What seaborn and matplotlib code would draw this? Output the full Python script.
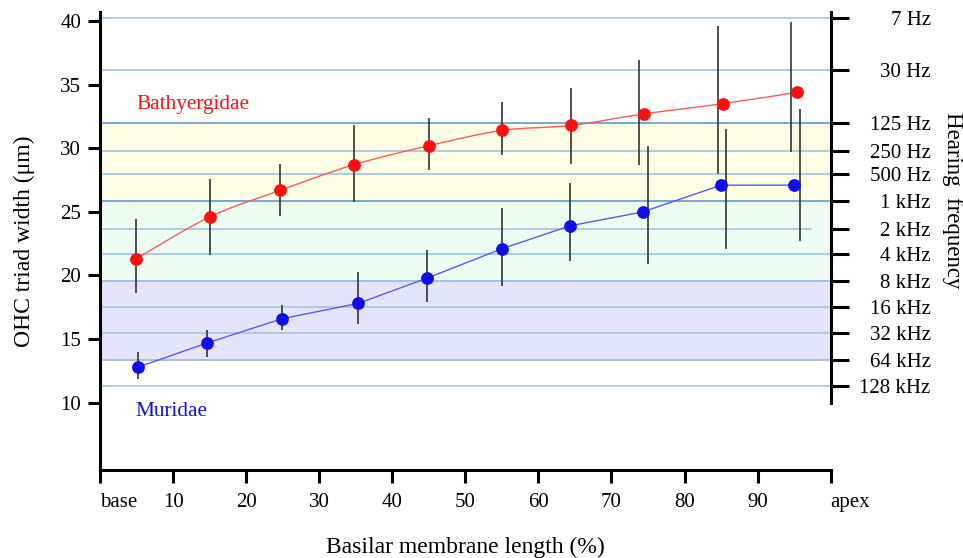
import numpy as np
import pandas as pd
import matplotlib
matplotlib.use("Agg")
import matplotlib.pyplot as plt
from matplotlib.path import Path
from matplotlib.patches import PathPatch
import seaborn as sns

# Bathyergidae: OHC triad width per basilar-membrane segment (% from base)
bathy_pos = [4.9, 15.0, 24.7, 34.7, 45.0, 55.0, 64.5, 74.4, 85.2, 95.4]
bathy_width = [21.3, 24.6, 26.7, 28.7, 30.2, 31.4, 31.8, 32.7, 33.5, 34.4]
bathy_low = [18.6, 21.6, 24.7, 25.8, 28.3, 29.5, 28.8, 28.7, 28.0, 29.7]
bathy_high = [24.4, 27.6, 28.8, 31.8, 32.4, 33.6, 34.7, 36.9, 39.6, 39.9]
bathy_err_pos = [4.9, 15.0, 24.7, 34.7, 45.0, 55.0, 64.5, 73.7, 84.6, 94.6]

# Muridae
murid_pos = [5.2, 14.7, 24.9, 35.3, 44.8, 55.0, 64.3, 74.3, 85.0, 95.0]
murid_width = [12.8, 14.7, 16.6, 17.8, 19.8, 22.1, 23.9, 25.0, 27.1, 27.1]
murid_low = [11.9, 13.6, 15.7, 16.2, 17.9, 19.2, 21.1, 20.9, 22.1, 22.7]
murid_high = [14.0, 15.7, 17.7, 20.3, 22.0, 25.3, 27.3, 30.2, 31.5, 33.1]
murid_err_pos = [5.2, 14.7, 24.9, 35.3, 44.8, 55.0, 64.3, 75.0, 85.7, 95.8]

# Axis ticks
x_ticks = [0, 10, 20, 30, 40, 50, 60, 70, 80, 90, 100]
x_labels = ["base", "10", "20", "30", "40", "50", "60", "70", "80", "90", "apex"]
y_ticks = [10, 15, 20, 25, 30, 35, 40]

# Hearing-frequency map along the right axis (in triad-width units)
freq_labels = ["7 Hz", "30 Hz", "125 Hz", "250 Hz", "500 Hz", "1 kHz", "2 kHz",
               "4 kHz", "8 kHz", "16 kHz", "32 kHz", "64 kHz", "128 kHz"]
freq_pos = [40.2, 36.15, 32.0, 29.82, 27.95, 25.87, 23.69,
            21.66, 19.6, 17.54, 15.45, 13.36, 11.3]

RED = "#ff1010"
BLUE = "#1010e6"
TICK_FS = 15
LABEL_FS = 17

sns.set_theme(style="white")
plt.rcParams["font.family"] = ["Liberation Serif", "DejaVu Serif"]
plt.rcParams["text.color"] = "black"
plt.rcParams["axes.labelcolor"] = "black"

fig = plt.figure(figsize=(9.63, 5.58), dpi=100)
ax = fig.add_axes([100 / 963, 1 - 470 / 558, 730.7 / 963, 458 / 558])
ax.set_xlim(0, 100)
ax.set_ylim(4.71, 40.71)

# Frequency bands
f = dict(zip(freq_labels, freq_pos))
ax.axhspan(f["1 kHz"], f["125 Hz"], color="#fefee4", lw=0, zorder=0)
ax.axhspan(f["8 kHz"], f["1 kHz"], color="#edfdf2", lw=0, zorder=0)
ax.axhspan(f["64 kHz"], f["8 kHz"], color="#e4e4fa", lw=0, zorder=0)

# Frequency grid lines
for lab, yv in zip(freq_labels, freq_pos):
    col = "#a6c8e4"
    if lab in ("125 Hz", "1 kHz"):
        col = "#6e9fd8"
    elif lab in ("8 kHz", "64 kHz"):
        col = "#a3b9e8"
    xmax = 0.973 if lab == "2 kHz" else 1.0
    ax.axhline(yv, xmin=0, xmax=xmax, color=col, lw=1.3, zorder=1)

# Error bars
ax.vlines(bathy_err_pos, bathy_low, bathy_high, color="#333333", lw=1.2, zorder=3)
ax.vlines(murid_err_pos, murid_low, murid_high, color="#333333", lw=1.2, zorder=3)

# Smooth curve through the Bathyergidae means (Catmull-Rom as cubic Beziers)
px = np.asarray(bathy_pos, float)
py = np.asarray(bathy_width, float)
P = np.column_stack([px, py])
Pe = np.vstack([P[0], P, P[-1]])
verts = [tuple(P[0])]
codes = [Path.MOVETO]
for i in range(1, len(Pe) - 2):
    p0, p1, p2, p3 = Pe[i - 1], Pe[i], Pe[i + 1], Pe[i + 2]
    c1 = p1 + (p2 - p0) / 6.0
    c2 = p2 - (p3 - p1) / 6.0
    verts += [tuple(c1), tuple(c2), tuple(p2)]
    codes += [Path.CURVE4] * 3
ax.add_patch(PathPatch(Path(verts, codes), fill=False, edgecolor="#ff5a5a",
                       lw=1.0, zorder=2))

# Muridae connecting line
dm = pd.DataFrame({"pos": murid_pos, "width": murid_width})
db = pd.DataFrame({"pos": bathy_pos, "width": bathy_width})
sns.lineplot(data=dm, x="pos", y="width", color="#5a5af5", lw=1.0, ax=ax,
             zorder=2, sort=False)

# Means
sns.scatterplot(data=db, x="pos", y="width", color=RED, s=85, linewidth=0,
                ax=ax, zorder=4)
sns.scatterplot(data=dm, x="pos", y="width", color=BLUE, s=85, linewidth=0,
                ax=ax, zorder=4)

# Group labels
ax.text(5.0, 33.4, "Bathyergidae", color=RED, fontsize=15.3, va="center", ha="left")
ax.text(4.9, 9.3, "Muridae", color=BLUE, fontsize=15.3, va="center", ha="left")

# Left / bottom axes
ax.set_xticks(x_ticks)
ax.set_xticklabels(x_labels)
ticklabs = ax.get_xticklabels()
ticklabs[0].set_horizontalalignment("left")
ticklabs[-1].set_horizontalalignment("left")
ax.set_yticks(y_ticks)
ax.tick_params(axis="x", direction="out", length=9.5, width=2.2, pad=7,
               labelsize=TICK_FS, colors="black", bottom=True)
ax.tick_params(axis="y", direction="out", length=8.5, width=2.2, pad=5,
               labelsize=TICK_FS, colors="black", left=True)
for s in ("left", "bottom"):
    ax.spines[s].set_linewidth(2.2)
    ax.spines[s].set_color("black")
ax.spines["top"].set_visible(False)
ax.spines["right"].set_visible(False)
ax.set_xlabel("Basilar membrane length (%)", fontsize=LABEL_FS, labelpad=18,
              color="black")
ax.set_ylabel("OHC triad width (\u03bcm)", fontsize=LABEL_FS, labelpad=18,
              color="black")
ax.grid(False)

# Right frequency axis
ax2 = ax.twinx()
ax2.set_ylim(ax.get_ylim())
ax2.set_yticks(freq_pos)
ax2.set_yticklabels(freq_labels, ha="right")
ax2.tick_params(axis="y", direction="out", length=13, width=2.2, pad=59,
                labelsize=TICK_FS, colors="black", right=True)
for s in ("left", "top", "bottom"):
    ax2.spines[s].set_visible(False)
ax2.spines["right"].set_linewidth(2.2)
ax2.spines["right"].set_color("black")
ax2.spines["right"].set_bounds(10, 40.71)
ax2.grid(False)

fig.text(952 / 963, 1 - 200 / 558, "Hearing  frequency", rotation=270,
         fontsize=16.5, ha="center", va="center", color="black")

fig.savefig("out.png", dpi=100)
